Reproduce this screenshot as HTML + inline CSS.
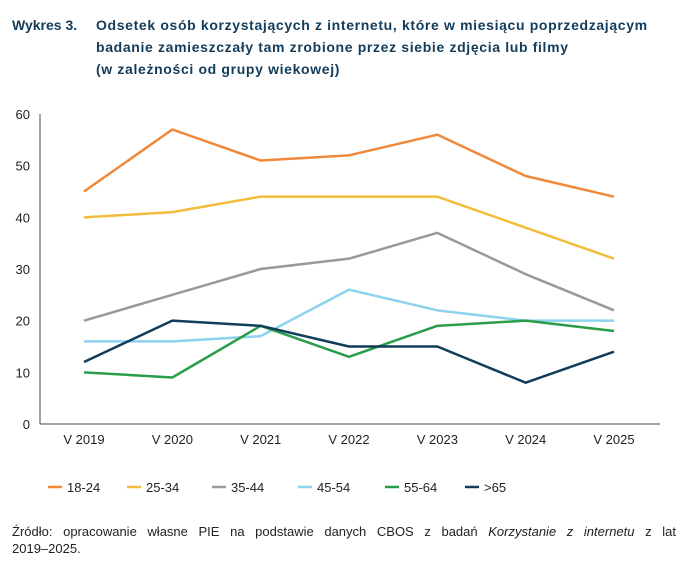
<!DOCTYPE html>
<html><head><meta charset="utf-8"><style>
body{margin:0;background:#fff;font-family:"Liberation Sans","Noto Sans CJK SC",sans-serif;}
#wrap{position:relative;width:688px;height:577px;overflow:hidden;}
.title{position:absolute;top:14px;left:12px;color:#123c5a;font-weight:bold;font-size:14px;line-height:22px;}
.title .lab{position:absolute;left:0;top:0;width:90px;white-space:nowrap;}
.title .txt{position:absolute;left:84px;top:0;width:590px;letter-spacing:0.65px;white-space:nowrap;}
.src{position:absolute;left:12px;top:523px;width:664px;font-size:13px;line-height:17px;color:#222;}
.src .l1{text-align:justify;text-align-last:justify;}
</style></head><body>
<div id="wrap">
<div class="title"><span class="lab">Wykres 3.</span><span class="txt">Odsetek osób korzystających z internetu, które w miesiącu poprzedzającym<br>badanie zamieszczały tam zrobione przez siebie zdjęcia lub filmy<br>(w zależności od grupy wiekowej)</span></div>
<svg id="chart" width="688" height="577" style="position:absolute;left:0;top:0"></svg>
<div class="src"><div class="l1">Źródło: opracowanie własne PIE na podstawie danych CBOS z badań <i>Korzystanie z internetu</i> z lat</div><div>2019–2025.</div></div>
</div>
<script>
const categories=["V 2019","V 2020","V 2021","V 2022","V 2023","V 2024","V 2025"];
const yTicks=[0,10,20,30,40,50,60];
const seriesNames=["18-24","25-34","35-44","45-54","55-64",">65"];
const s1824=[45,57,51,52,56,48,44];
const s2534=[40,41,44,44,44,38,32];
const s3544=[20,25,30,32,37,29,22];
const s4554=[16,16,17,26,22,20,20];
const s5564=[10,9,19,13,19,20,18];
const s65=[12,20,19,15,15,8,14];
const seriesValues=[s1824,s2534,s3544,s4554,s5564,s65];
const colors=["#f0883a","#f2bd3a","#999999","#8dd2ee","#2a9d4a","#0f3d5a"];
const NS="http://www.w3.org/2000/svg";
const svg=document.getElementById('chart');
const x0=40,x1=660,yTop=114,yBot=424,yMax=60;
const xs=i=>84+i*(614-84)/(categories.length-1);
const ys=v=>yBot-(v/yMax)*(yBot-yTop);
function mk(t,a){const e=document.createElementNS(NS,t);for(const k in a)e.setAttribute(k,a[k]);svg.appendChild(e);return e;}
let ax=mk('line',{x1:x0,y1:yTop,x2:x0,y2:yBot,stroke:'#444','stroke-width':1});


let bx=mk('line',{x1:x0,y1:yBot,x2:x1,y2:yBot,stroke:'#444','stroke-width':1});


yTicks.forEach(t=>{const e=mk('text',{x:30,y:ys(t)+5,'text-anchor':'end','font-size':13,fill:'#222'});e.textContent=t;

});
categories.forEach((c,i)=>{const e=mk('text',{x:xs(i),y:444,'text-anchor':'middle','font-size':13,fill:'#222'});e.textContent=c;

});
seriesValues.forEach((vals,si)=>{const p=mk('polyline',{points:vals.map((v,i)=>xs(i)+','+ys(v)).join(' '),fill:'none',stroke:colors[si],'stroke-width':2.5,'stroke-linejoin':'round'});

});
const legX=[48,127,212,298,385,465];
seriesNames.forEach((n,i)=>{const l=mk('line',{x1:legX[i],y1:487,x2:legX[i]+14,y2:487,stroke:colors[i],'stroke-width':2.5});


const t=mk('text',{x:legX[i]+19,y:492,'font-size':13,fill:'#222'});t.textContent=n;

});
</script>
</body></html>
